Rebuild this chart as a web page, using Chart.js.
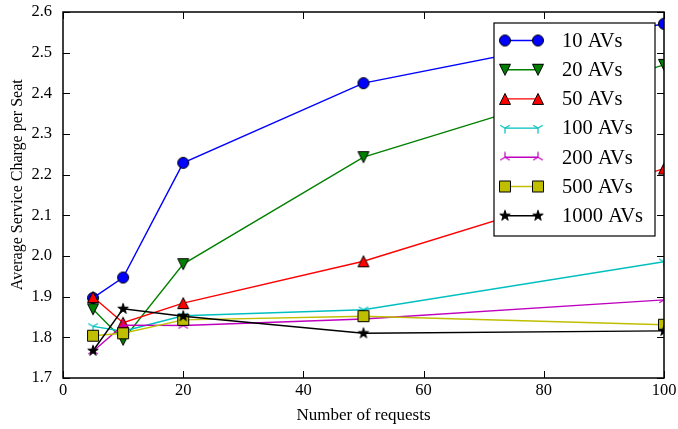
<!DOCTYPE html>
<html>
<head>
<meta charset="utf-8">
<script src="https://cdn.jsdelivr.net/npm/chart.js@4/dist/chart.umd.min.js"></script>
<style>
  html, body { margin: 0; padding: 0; background: #ffffff; }
  #c { display: block; }
</style>
</head>
<body>
<canvas id="c" width="678" height="429"></canvas>
<script>
// Number of requests (x) and the average charge per seat for each fleet size
const requests = [5, 10, 20, 50, 100];
const fleetLabels = ['10 AVs', '20 AVs', '50 AVs', '100 AVs', '200 AVs', '500 AVs', '1000 AVs'];
const charge10   = [1.897, 1.947, 2.229, 2.425, 2.571];
const charge20   = [1.869, 1.794, 1.980, 2.243, 2.470];
const charge50   = [1.899, 1.836, 1.884, 1.987, 2.215];
const charge100  = [1.827, 1.815, 1.853, 1.868, 1.986];
const charge200  = [1.766, 1.830, 1.829, 1.845, 1.892];
const charge500  = [1.804, 1.810, 1.843, 1.852, 1.831];
const charge1000 = [1.767, 1.870, 1.852, 1.810, 1.816];
const xTickValues = [0, 20, 40, 60, 80, 100];
const yTickValues = [1.7, 1.8, 1.9, 2.0, 2.1, 2.2, 2.3, 2.4, 2.5, 2.6];
const xTitle = 'Number of requests';
const yTitle = 'Average Service Charge per Seat';

const seriesValues = [charge10, charge20, charge50, charge100, charge200, charge500, charge1000];
const seriesColors = ['#0000ff', '#008000', '#ff0000', '#00bfbf', '#bf00bf', '#bfbf00', '#000000'];
const seriesMarkers = ['circle', 'triangleDown', 'triangleUp', 'triDown', 'triUp', 'square', 'star'];

const SERIF = "'Liberation Serif', 'DejaVu Serif', serif";
const HALF = 5.5;        // half marker size
const LINE_W = 1.4;

// Build marker sprites on small canvases
function sprite(draw) {
  const size = 2 * Math.ceil(HALF) + 6;
  const c = document.createElement('canvas');
  c.width = size; c.height = size;
  const g = c.getContext('2d');
  g.translate(size / 2, size / 2);
  draw(g);
  return c;
}
function makeMarker(kind, color) {
  return sprite(g => {
    g.lineJoin = 'miter';
    g.fillStyle = color;
    g.strokeStyle = '#000000';
    g.lineWidth = 1;
    g.beginPath();
    switch (kind) {
      case 'circle':
        g.arc(0, 0, HALF, 0, Math.PI * 2);
        break;
      case 'triangleUp':
        g.moveTo(0, -HALF); g.lineTo(-HALF, HALF); g.lineTo(HALF, HALF); g.closePath();
        break;
      case 'triangleDown':
        g.moveTo(0, HALF); g.lineTo(-HALF, -HALF); g.lineTo(HALF, -HALF); g.closePath();
        break;
      case 'square':
        g.rect(-HALF, -HALF, 2 * HALF, 2 * HALF);
        break;
      case 'star': {
        const inner = HALF * 0.381966;
        for (let i = 0; i < 10; i++) {
          const r = i % 2 === 0 ? HALF : inner;
          const a = -Math.PI / 2 + i * Math.PI / 5;
          const px = r * Math.cos(a), py = r * Math.sin(a);
          if (i === 0) g.moveTo(px, py); else g.lineTo(px, py);
        }
        g.closePath();
        break;
      }
      case 'triDown':
      case 'triUp': {
        const s = kind === 'triDown' ? 1 : -1;
        g.strokeStyle = color;
        g.lineWidth = 1.2;
        g.moveTo(0, 0); g.lineTo(0, s * HALF);
        g.moveTo(0, 0); g.lineTo(0.866 * HALF, -s * 0.5 * HALF);
        g.moveTo(0, 0); g.lineTo(-0.866 * HALF, -s * 0.5 * HALF);
        g.stroke();
        return;
      }
    }
    g.fill();
    g.stroke();
  });
}
const markerSprites = seriesMarkers.map((m, i) => makeMarker(m, seriesColors[i]));

const datasets = fleetLabels.map((label, i) => ({
  label: label,
  data: requests.map((x, j) => ({ x: x, y: seriesValues[i][j] })),
  borderColor: seriesColors[i],
  backgroundColor: seriesColors[i],
  borderWidth: LINE_W,
  pointStyle: markerSprites[i],
  pointRadius: HALF,
  pointHoverRadius: HALF,
  tension: 0,
  fill: false,
  clip: 0,
  order: fleetLabels.length - i
}));

// Box frame with inward ticks on all four sides, plus the rotated y-axis title
const framePlugin = {
  id: 'frameTicks',
  afterDatasetsDraw(chart) {
    const { ctx, chartArea: a, scales } = chart;
    ctx.save();
    ctx.strokeStyle = '#000000';
    ctx.lineWidth = 1;
    const len = 7;
    ctx.beginPath();
    xTickValues.forEach(v => {
      const px = Math.round(scales.x.getPixelForValue(v)) + 0.5;
      ctx.moveTo(px, a.bottom); ctx.lineTo(px, a.bottom - len);
      ctx.moveTo(px, a.top); ctx.lineTo(px, a.top + len);
    });
    yTickValues.forEach(v => {
      const py = Math.round(scales.y.getPixelForValue(v)) + 0.5;
      ctx.moveTo(a.left, py); ctx.lineTo(a.left + len, py);
      ctx.moveTo(a.right, py); ctx.lineTo(a.right - len, py);
    });
    ctx.stroke();
    ctx.lineWidth = 1.5;
    ctx.strokeRect(a.left, a.top, a.right - a.left, a.bottom - a.top);

    ctx.translate(17.5, a.top + (a.bottom - a.top) * 0.472);
    ctx.rotate(-Math.PI / 2);
    ctx.fillStyle = '#000000';
    ctx.font = '16px ' + SERIF;
    ctx.textAlign = 'center';
    ctx.textBaseline = 'middle';
    ctx.fillText(yTitle, 0, 0);
    ctx.restore();
  }
};

// Legend box in the upper right corner: line segment with a marker at each end
const legendPlugin = {
  id: 'boxLegend',
  afterDraw(chart) {
    const { ctx, chartArea: a } = chart;
    const boxRight = a.right - 9, boxTop = a.top + 11;
    const boxW = 161, boxH = 213;
    const boxLeft = boxRight - boxW;
    ctx.save();
    ctx.fillStyle = '#ffffff';
    ctx.fillRect(boxLeft, boxTop, boxW, boxH);
    ctx.strokeStyle = '#000000';
    ctx.lineWidth = 1.2;
    ctx.strokeRect(boxLeft, boxTop, boxW, boxH);
    const x1 = boxLeft + 11, x2 = boxLeft + 44, tx = boxLeft + 68;
    chart.data.datasets.forEach((ds, i) => {
      const y = boxTop + 17.5 + i * 29.2;
      ctx.strokeStyle = ds.borderColor;
      ctx.lineWidth = LINE_W;
      ctx.beginPath(); ctx.moveTo(x1, y); ctx.lineTo(x2, y); ctx.stroke();
      const img = ds.pointStyle;
      ctx.drawImage(img, x1 - img.width / 2, y - img.height / 2);
      ctx.drawImage(img, x2 - img.width / 2, y - img.height / 2);
      ctx.fillStyle = '#000000';
      ctx.font = '20.5px ' + SERIF;
      ctx.textAlign = 'left';
      ctx.textBaseline = 'middle';
      ctx.fillText(ds.label, tx, y + 1);
    });
    ctx.restore();
  }
};

new Chart(document.getElementById('c'), {
  type: 'line',
  data: { datasets: datasets },
  options: {
    responsive: false,
    animation: false,
    devicePixelRatio: 1,
    layout: { autoPadding: false, padding: { top: 12, right: 14, left: 0, bottom: 0 } },
    plugins: { legend: { display: false }, tooltip: { enabled: false } },
    scales: {
      x: {
        type: 'linear',
        min: 0, max: 100,
        afterBuildTicks: s => { s.ticks = xTickValues.map(v => ({ value: v })); },
        afterFit: s => { s.height = 51; s.paddingLeft = 0; s.paddingRight = 0; },
        grid: { display: false, drawTicks: false },
        border: { display: false },
        ticks: {
          color: '#000000', padding: 3, maxRotation: 0, autoSkip: false,
          font: { family: SERIF, size: 16.5 },
          callback: v => String(v)
        },
        title: {
          display: true, text: xTitle, color: '#000000',
          font: { family: SERIF, size: 17 }, padding: { top: 4, bottom: 3 }
        }
      },
      y: {
        type: 'linear',
        min: 1.7, max: 2.6,
        afterBuildTicks: s => { s.ticks = yTickValues.map(v => ({ value: v })); },
        afterFit: s => { s.width = 63; s.paddingTop = 0; s.paddingBottom = 0; },
        grid: { display: false, drawTicks: false },
        border: { display: false },
        ticks: {
          color: '#000000', padding: 11, autoSkip: false,
          font: { family: SERIF, size: 16.5 },
          callback: v => Number(v).toFixed(1)
        },
        title: { display: false }
      }
    }
  },
  plugins: [framePlugin, legendPlugin]
});
</script>
</body>
</html>
